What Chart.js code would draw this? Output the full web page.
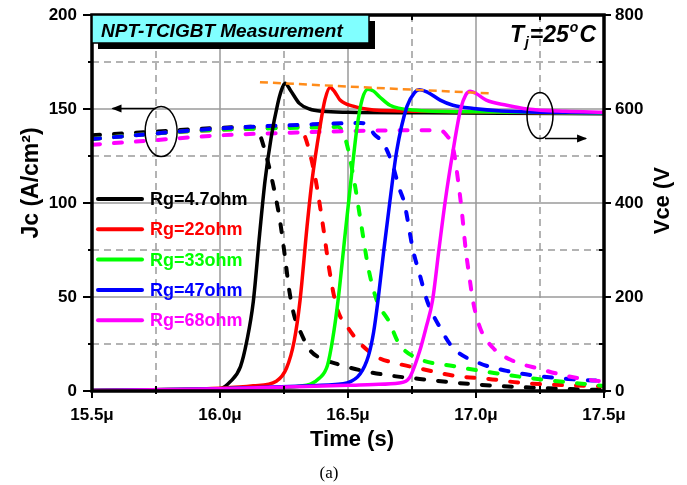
<!DOCTYPE html>
<html>
<head>
<meta charset="utf-8">
<title>NPT-TCIGBT turn-off waveforms</title>
<script src="https://cdn.jsdelivr.net/npm/chart.js@4/dist/chart.umd.min.js"></script>
<style>
  html, body { margin: 0; padding: 0; background: #fff; }
  #wrap { width: 687px; height: 485px; }
</style>
</head>
<body>
<div id="wrap"><canvas id="c" width="687" height="485"></canvas></div>
<script>
// ---- Turn-off waveforms, Tj = 25 C (time in microseconds) ----
const gateResistors = ['Rg=4.7ohm', 'Rg=22ohm', 'Rg=33ohm', 'Rg=47ohm', 'Rg=68ohm'];
const traceColors   = ['#000000', '#ff0000', '#00ff00', '#0000ff', '#ff00ff'];

// Collector-emitter voltage Vce (V), solid traces, right axis
const tVce4_7 = [15.5,15.75,16.0,16.04,16.08,16.105,16.13,16.155,16.176,16.2,16.225,16.24,16.254,16.275,16.31,16.35,16.4,16.5,16.8,17.1,17.5];
const vce4_7  = [1,2,5,20,52,107,190,335,448,540,610,640,655,640,612,600,595,593,592,591,590];

const tVce22 = [15.5,15.8,16.0,16.13,16.22,16.26,16.29,16.3125,16.34,16.36,16.39,16.41,16.43,16.45,16.469,16.52,16.6,16.8,17.1,17.5];
const vce22  = [1,3,6,11,21,49,107,192,350,450,560,620,646,635,619,606,598,595,593,591];

const tVce33 = [15.5,15.8,16.0,16.2,16.31,16.39,16.42,16.44,16.461,16.49,16.51,16.535,16.555,16.578,16.6,16.625,16.664,16.75,17.0,17.5];
const vce33  = [1,3,5,7,10,28,55,110,192,340,440,560,620,642,638,625,608,598,594,591];

const tVce47 = [15.5,15.8,16.0,16.3,16.45,16.496,16.547,16.58,16.6,16.617,16.64,16.664,16.69,16.73,16.76,16.78,16.81,16.86,16.91,16.99,17.1,17.5];
const vce47  = [1,3,5,10,14,17,36,75,125,192,300,405,510,605,635,641,636,619,608,601,596,592];

const tVce68 = [15.5,15.8,16.0,16.3,16.5,16.6,16.7,16.74,16.78,16.805,16.83,16.855,16.88,16.91,16.94,16.96,16.977,17.0,17.04,17.12,17.2,17.35,17.5];
const vce68  = [1,3,5,9,12,14,17,28,85,135,192,300,405,510,600,630,638,633,619,608,600,595,593];

// Collector current density Jc (A/cm2), dashed traces, left axis
const tJc4_7 = [15.5,15.75,16.0,16.12,16.15,16.175,16.207,16.235,16.255,16.27,16.29,16.3125,16.35,16.39,16.457,16.56,16.676,16.78,16.977,17.17,17.43,17.5];
const jc4_7  = [136,138,140,140.5,138,128,110,90,70,54,40,32,22,17.6,14.4,10.7,8,6.4,3.7,2.1,0.8,0.6];

const tJc22 = [15.5,15.75,16.0,16.2,16.31,16.33,16.345,16.37,16.4,16.43,16.457,16.5,16.55,16.62,16.68,16.79,16.92,17.05,17.18,17.44,17.5];
const jc22  = [134,137,139,140,140.5,136,129.6,115,90,62,44,33.6,25,17.6,15,11.7,8,6.4,4.3,2.7,2.5];

const tJc33 = [15.5,15.75,16.0,16.3,16.46,16.49,16.52,16.55,16.58,16.613,16.66,16.7,16.78,16.91,17.07,17.24,17.5];
const jc33  = [134,137,139,140,140.5,134,115,90,65,48,37,25,17,13.3,9.6,6.4,2.7];

const tJc47 = [15.5,15.75,16.0,16.3,16.55,16.58,16.6,16.637,16.67,16.7,16.72,16.754,16.78,16.809,16.86,16.91,17.01,17.12,17.24,17.36,17.5];
const jc47  = [134,137,139.7,141.5,142.5,141.5,137,132,122,108,100,75,62,48,33.6,23,15,10.7,8,6.4,5.3];

const tJc68 = [15.5,15.75,16.0,16.3,16.6,16.86,16.885,16.91,16.93,16.945,16.96,16.975,16.988,17.016,17.066,17.145,17.25,17.355,17.48,17.5];
const jc68  = [131,133.5,136,137.5,138.5,138.7,136,129.6,112,95,75,60,48,33.6,23,16,11.7,8,5.3,5.2];

// Overshoot peak trend (orange guide), right axis
const tPeakTrend = [16.156, 17.06];
const vPeakTrend = [657, 633];

// Axis ranges and tick steps
const timeRange = [15.5, 17.5];
const jcRange   = [0, 200];
const vceRange  = [0, 800];
const timeStep = 0.25, jcStep = 25, vceStep = 100;

const vceTimes  = [tVce4_7, tVce22, tVce33, tVce47, tVce68];
const vceValues = [vce4_7, vce22, vce33, vce47, vce68];
const jcTimes   = [tJc4_7, tJc22, tJc33, tJc47, tJc68];
const jcValues  = [jc4_7, jc22, jc33, jc47, jc68];

const FONT = '"Liberation Sans", Arial, sans-serif';
const pts = (t, v) => t.map((x, i) => ({ x, y: v[i] }));
const isMult = (v, step) => Math.abs(v / step - Math.round(v / step)) < 1e-6;

const datasets = [];
datasets.push({
  label: 'peak trend', data: pts(tPeakTrend, vPeakTrend), yAxisID: 'y2',
  borderColor: '#ff8c1a', borderWidth: 2.5, borderDash: [8, 5], pointRadius: 0,
  order: 0, isLegend: false
});
gateResistors.forEach((name, i) => {
  datasets.push({
    label: name, data: pts(jcTimes[i], jcValues[i]), yAxisID: 'y',
    borderColor: traceColors[i], borderWidth: 4, borderDash: [8, 14], borderCapStyle: 'round',
    pointRadius: 0, cubicInterpolationMode: 'monotone', order: 20 - i, isLegend: false
  });
  datasets.push({
    label: name, data: pts(vceTimes[i], vceValues[i]), yAxisID: 'y2',
    borderColor: traceColors[i], borderWidth: 3.5, pointRadius: 0,
    cubicInterpolationMode: 'monotone', order: 10 - i, isLegend: true
  });
});

// Grid, frame, ticks and annotations drawn against the chart's scales
const decor = {
  id: 'decor',
  beforeDatasetsDraw(chart) {
    const { ctx, chartArea: a, scales } = chart;
    ctx.save();
    ctx.strokeStyle = '#9a9a9a';
    ctx.lineWidth = 1.5;
    scales.x.ticks.forEach(t => {
      if (t.value <= timeRange[0] || t.value >= timeRange[1]) return;
      const px = scales.x.getPixelForValue(t.value);
      ctx.setLineDash(isMult(t.value, 0.5) ? [] : [7, 5]);
      ctx.beginPath(); ctx.moveTo(px, a.top); ctx.lineTo(px, a.bottom); ctx.stroke();
    });
    scales.y.ticks.forEach(t => {
      if (t.value <= jcRange[0] || t.value >= jcRange[1]) return;
      const py = scales.y.getPixelForValue(t.value);
      ctx.setLineDash(isMult(t.value, 50) ? [] : [7, 5]);
      ctx.beginPath(); ctx.moveTo(a.left, py); ctx.lineTo(a.right, py); ctx.stroke();
    });
    ctx.restore();
  },
  afterDatasetsDraw(chart) {
    const { ctx, chartArea: a, scales } = chart;
    const { x, y, y2 } = scales;
    ctx.save();
    ctx.setLineDash([]);

    // frame
    ctx.strokeStyle = '#000';
    ctx.lineWidth = 3.5;
    ctx.strokeRect(a.left, a.top, a.right - a.left, a.bottom - a.top);

    // tick marks
    ctx.lineWidth = 2;
    x.ticks.forEach(t => {
      const px = x.getPixelForValue(t.value);
      const major = isMult(t.value, 0.5);
      ctx.beginPath();
      if (major) { ctx.moveTo(px, a.bottom); ctx.lineTo(px, a.bottom + 7); }
      else { ctx.moveTo(px, a.bottom - 5); ctx.lineTo(px, a.bottom + 3); }
      ctx.stroke();
      if (!major) { ctx.beginPath(); ctx.moveTo(px, a.top); ctx.lineTo(px, a.top + 5); ctx.stroke(); }
    });
    y.ticks.forEach(t => {
      const py = y.getPixelForValue(t.value);
      const major = isMult(t.value, 50);
      ctx.beginPath(); ctx.moveTo(a.left, py); ctx.lineTo(a.left - (major ? 9 : 4), py); ctx.stroke();
    });
    y2.ticks.forEach(t => {
      const py = y2.getPixelForValue(t.value);
      const major = isMult(t.value, 200);
      ctx.beginPath();
      if (major) { ctx.moveTo(a.right, py); ctx.lineTo(a.right + 7, py); }
      else { ctx.moveTo(a.right, py); ctx.lineTo(a.right - 5, py); }
      ctx.stroke();
    });

    // ellipse + arrow marking the Jc traces (left axis)
    ctx.lineWidth = 1.5;
    const lx = x.getPixelForValue(15.77), ly = y.getPixelForValue(138);
    ctx.beginPath(); ctx.ellipse(lx, ly, 16, 25, 0, 0, Math.PI * 2); ctx.stroke();
    const ay = ly - 23, ax0 = lx - 5, ax1 = x.getPixelForValue(15.58);
    ctx.beginPath(); ctx.moveTo(ax0, ay); ctx.lineTo(ax1, ay); ctx.stroke();
    ctx.beginPath(); ctx.moveTo(ax1 - 1, ay); ctx.lineTo(ax1 + 9, ay - 4); ctx.lineTo(ax1 + 9, ay + 4); ctx.closePath(); ctx.fill();

    // ellipse + arrow marking the Vce traces (right axis)
    const rx = x.getPixelForValue(17.25), ry = y2.getPixelForValue(586);
    ctx.beginPath(); ctx.ellipse(rx, ry, 13, 23, 0, 0, Math.PI * 2); ctx.stroke();
    const by = ry + 23, bx0 = rx + 5, bx1 = x.getPixelForValue(17.43);
    ctx.beginPath(); ctx.moveTo(bx0, by); ctx.lineTo(bx1, by); ctx.stroke();
    ctx.beginPath(); ctx.moveTo(bx1 + 1, by); ctx.lineTo(bx1 - 9, by - 4); ctx.lineTo(bx1 - 9, by + 4); ctx.closePath(); ctx.fill();

    // legend
    const entries = chart.data.datasets.filter(d => d.isLegend);
    ctx.textAlign = 'left';
    ctx.textBaseline = 'middle';
    ctx.font = `bold 18px ${FONT}`;
    entries.forEach((d, i) => {
      const yy = 199 + i * 30.3;
      ctx.strokeStyle = d.borderColor; ctx.lineWidth = 4; ctx.lineCap = 'round';
      ctx.beginPath(); ctx.moveTo(98, yy); ctx.lineTo(142, yy); ctx.stroke();
      ctx.fillStyle = d.borderColor;
      ctx.fillText(d.label, 150, yy + 1);
    });
    ctx.lineCap = 'butt';

    // title box with drop shadow
    ctx.fillStyle = '#000';
    ctx.fillRect(98, 21, 277, 28);
    ctx.fillStyle = '#80ffff';
    ctx.fillRect(92, 15, 277, 28);
    ctx.strokeStyle = '#000'; ctx.lineWidth = 1.5;
    ctx.strokeRect(92, 15, 277, 28);
    ctx.fillStyle = '#000';
    ctx.textBaseline = 'alphabetic';
    ctx.font = `italic bold 19px ${FONT}`;
    ctx.fillText('NPT-TCIGBT Measurement', 101, 37);

    // junction temperature label
    const big = `italic bold 23px ${FONT}`, small = `italic bold 14px ${FONT}`;
    const parts = [['T', big, 0, 0], ['j', small, 5, 1], ['=25', big, 0, 1], ['o', small, -10, 1], ['C', big, 0, 1]];
    let total = 0;
    parts.forEach(p => { ctx.font = p[1]; total += ctx.measureText(p[0]).width + p[3]; });
    let px = 596 - total;
    parts.forEach(p => { ctx.font = p[1]; px += p[3]; ctx.fillText(p[0], px, 42 + p[2]); px += ctx.measureText(p[0]).width; });

    ctx.restore();
  },
  afterDraw(chart) {
    const { ctx } = chart;
    ctx.save();
    ctx.fillStyle = '#000';
    ctx.textAlign = 'center';
    ctx.textBaseline = 'alphabetic';

    // left axis title
    ctx.font = `bold 23px ${FONT}`;
    ctx.save(); ctx.translate(38, 183); ctx.rotate(-Math.PI / 2); ctx.fillText('Jc (A/cm²)', 0, 0); ctx.restore();

    // right axis title (upper end hidden)
    ctx.font = `bold 22px ${FONT}`;
    ctx.save();
    ctx.beginPath(); ctx.rect(640, 167, 47, 200); ctx.clip();
    ctx.translate(669, 197); ctx.rotate(-Math.PI / 2); ctx.fillText('Vce (V)', 0, 0);
    ctx.restore();

    // x axis title and caption
    ctx.font = `bold 22px ${FONT}`;
    ctx.fillText('Time (s)', 352, 446);
    ctx.font = '17px "Liberation Serif", "Times New Roman", serif';
    ctx.fillText('(a)', 329, 478);
    ctx.restore();
  }
};

const tickFont = { family: FONT, size: 17, weight: 'bold' };
const fixVertical = width => s => { s.width = width; s.paddingTop = 0; s.paddingBottom = 0; };

new Chart(document.getElementById('c'), {
  type: 'line',
  data: { datasets },
  options: {
    responsive: false,
    animation: false,
    devicePixelRatio: 1,
    layout: { padding: { top: 15, left: 0, right: 0, bottom: 0 } },
    plugins: { legend: { display: false }, tooltip: { enabled: false } },
    elements: { line: { tension: 0 } },
    scales: {
      x: {
        type: 'linear', min: timeRange[0], max: timeRange[1],
        grid: { display: false, drawTicks: false }, border: { display: false },
        ticks: {
          stepSize: timeStep, autoSkip: false, maxRotation: 0, padding: 14,
          color: '#000', font: tickFont,
          callback: v => isMult(v, 0.5) ? v.toFixed(1) + 'μ' : ''
        },
        afterFit: s => { s.height = 94; s.paddingLeft = 0; s.paddingRight = 0; }
      },
      y: {
        position: 'left', min: jcRange[0], max: jcRange[1],
        grid: { display: false, drawTicks: false }, border: { display: false },
        ticks: {
          stepSize: jcStep, autoSkip: false, padding: 15, color: '#000', font: tickFont,
          callback: v => isMult(v, 50) ? String(v) : ''
        },
        afterFit: fixVertical(92)
      },
      y2: {
        position: 'right', min: vceRange[0], max: vceRange[1],
        grid: { display: false, drawTicks: false }, border: { display: false },
        ticks: {
          stepSize: vceStep, autoSkip: false, padding: 11, color: '#000', font: tickFont,
          callback: v => isMult(v, 200) ? String(v) : ''
        },
        afterFit: fixVertical(83)
      }
    }
  },
  plugins: [decor]
});
</script>
</body>
</html>
